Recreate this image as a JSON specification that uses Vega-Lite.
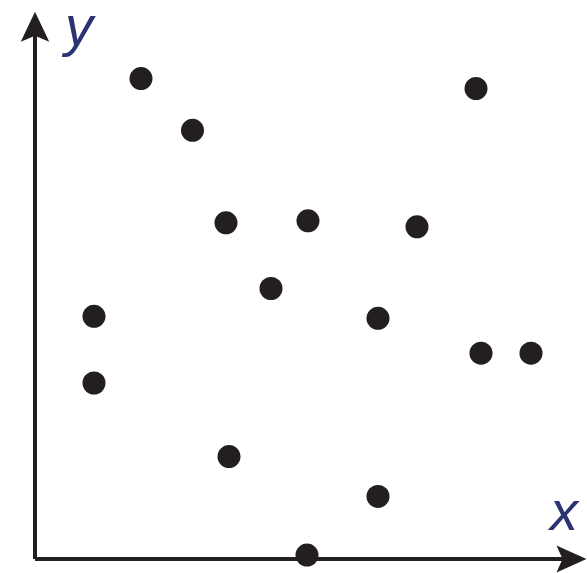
{
  "$schema": "https://vega.github.io/schema/vega-lite/v6.json",
  "width": 587,
  "height": 573,
  "padding": 0,
  "autosize": {"type": "fit", "contains": "padding"},
  "background": "white",
  "config": {"view": {"stroke": null}},
  "datasets": {
    "points": [
      {"x": 2.12, "y": 9.66},
      {"x": 8.82, "y": 9.46},
      {"x": 3.15, "y": 8.62},
      {"x": 3.82, "y": 6.76},
      {"x": 5.46, "y": 6.8},
      {"x": 7.64, "y": 6.68},
      {"x": 4.72, "y": 5.44},
      {"x": 1.18, "y": 4.88},
      {"x": 6.86, "y": 4.84},
      {"x": 8.92, "y": 4.14},
      {"x": 9.92, "y": 4.14},
      {"x": 1.18, "y": 3.54},
      {"x": 3.88, "y": 2.06},
      {"x": 6.86, "y": 1.26},
      {"x": 5.44, "y": 0.08}
    ],
    "axes": [
      {"x": 0, "y": 0, "x2": 0, "y2": 10.82},
      {"x": 0, "y": 0, "x2": 10.8, "y2": 0}
    ],
    "heads": [
      {"x": 0, "y": 10.7, "dir": "up"},
      {"x": 10.73, "y": 0, "dir": "right"}
    ],
    "labels": [
      {"x": 0.6, "y": 10.34, "t": "y"},
      {"x": 10.3, "y": 0.58, "t": "x"}
    ]
  },
  "layer": [
    {
      "data": {"name": "axes"},
      "mark": {"type": "rule", "strokeWidth": 4, "color": "#231f20"},
      "encoding": {
        "x": {"field": "x", "type": "quantitative", "scale": {"domain": [-0.7, 11.04], "nice": false, "zero": false}, "axis": null},
        "y": {"field": "y", "type": "quantitative", "scale": {"domain": [-0.24, 11.22], "nice": false, "zero": false}, "axis": null},
        "x2": {"field": "x2"},
        "y2": {"field": "y2"}
      }
    },
    {
      "data": {"name": "heads"},
      "mark": {"type": "point", "filled": true, "opacity": 1, "color": "#231f20", "size": 900},
      "encoding": {
        "x": {"field": "x", "type": "quantitative"},
        "y": {"field": "y", "type": "quantitative"},
        "shape": {"field": "dir", "type": "nominal", "legend": null, "scale": {"domain": ["up", "right"], "range": ["M0,-1L0.95,1L0,0.6L-0.95,1Z", "M1,0L-1,0.9L-0.6,0L-1,-0.9Z"]}}
      }
    },
    {
      "data": {"name": "points"},
      "mark": {"type": "circle", "opacity": 1, "color": "#231f20", "size": 530},
      "encoding": {
        "x": {"field": "x", "type": "quantitative"},
        "y": {"field": "y", "type": "quantitative"}
      }
    },
    {
      "data": {"name": "labels"},
      "mark": {"type": "text", "font": "Liberation Sans", "fontStyle": "italic", "fontSize": 56, "align": "left", "baseline": "alphabetic", "color": "#2a3470"},
      "encoding": {
        "x": {"field": "x", "type": "quantitative"},
        "y": {"field": "y", "type": "quantitative"},
        "text": {"field": "t", "type": "nominal"}
      }
    }
  ]
}
